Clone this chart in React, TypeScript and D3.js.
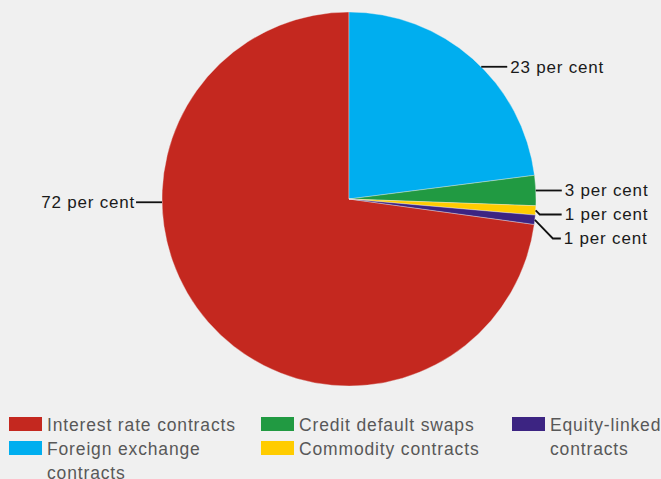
import React from "react";
import * as d3 from "d3";

const categories = [
  "Interest rate contracts",
  "Foreign exchange contracts",
  "Credit default swaps",
  "Commodity contracts",
  "Equity-linked contracts",
];
const shares = [72.9, 23.0, 2.6, 0.8, 0.8];
const sliceLabels = ["72 per cent", "23 per cent", "3 per cent", "1 per cent", "1 per cent"];
const colors = ["#c4281f", "#00aeef", "#219a42", "#ffcc00", "#3c2482"];

const W = 661;
const H = 479;
const CX = 349;
const CY = 199;
const R = 187;
// anchor-angle overrides for label leaders (degrees clockwise from 12 o'clock); null = mid angle
const labelAnchorDeg: (number | null)[] = [269, 45, null, null, null];

const LABEL_FONT = 17;
const LABEL_LS = 0.8;
const LEG_FONT = 17.5;
const LEG_LS = 0.85;
const FONT_FAMILY = "'Liberation Sans', Arial, Helvetica, sans-serif";

let measureCtx: CanvasRenderingContext2D | null = null;
function measure(text: string, size: number, ls: number) {
  if (!measureCtx) {
    const c = document.createElement("canvas");
    measureCtx = c.getContext("2d");
  }
  if (!measureCtx) return text.length * size * 0.5;
  measureCtx.font = `${size}px 'Liberation Sans'`;
  return measureCtx.measureText(text).width + ls * text.length;
}

function wrap(text: string, maxW: number) {
  const words = text.split(" ");
  const lines: string[] = [];
  let cur = "";
  for (const w of words) {
    const test = cur ? cur + " " + w : w;
    if (cur && measure(test, LEG_FONT, LEG_LS) > maxW) {
      lines.push(cur);
      cur = w;
    } else {
      cur = test;
    }
  }
  if (cur) lines.push(cur);
  return lines;
}

export default function App() {
  const total = d3.sum(shares);
  const a0 = (shares[0] / total) * 2 * Math.PI;
  const pie = d3
    .pie<number>()
    .sort(null)
    .value((d) => d)
    .startAngle(-a0)
    .endAngle(2 * Math.PI - a0);
  const arcs = pie(shares);
  const arcGen = d3.arc<d3.PieArcDatum<number>>().innerRadius(0).outerRadius(R);

  // label anchors
  const anchors = arcs.map((a, i) => {
    const ov = labelAnchorDeg[i];
    const th = ov != null ? (ov * Math.PI) / 180 : (a.startAngle + a.endAngle) / 2;
    const ax = CX + R * Math.sin(th);
    const ay = CY - R * Math.cos(th);
    return { i, ax, ay, right: Math.sin(th) >= 0, ly: ay };
  });
  // resolve overlaps per side
  [true, false].forEach((side) => {
    const grp = anchors.filter((a) => a.right === side).sort((p, q) => p.ay - q.ay);
    for (let k = 1; k < grp.length; k++) {
      if (grp[k].ly < grp[k - 1].ly + 24) grp[k].ly = grp[k - 1].ly + 24;
    }
  });

  const legendCols = [9, 261, 512];
  const legendRowTop = 417;
  const rowH = 24;

  return (
    <svg
      width={W}
      height={H}
      style={{ position: "absolute", left: 0, top: 0, display: "block" }}
      fontFamily={FONT_FAMILY}
    >
      <rect x={0} y={0} width={W} height={H} fill="#f0f0f0" />
      <g transform={`translate(${CX},${CY})`}>
        {arcs.map((a, i) => (
          <path
            key={i}
            d={arcGen(a) || ""}
            fill={colors[i]}
            stroke="#f0f0f0"
            strokeOpacity={0.6}
            strokeWidth={0.6}
          />
        ))}
      </g>
      {anchors.map((a) => {
        const dir = a.right ? 1 : -1;
        const dy = a.ly - a.ay;
        const endX = a.ax + dir * 26;
        const pts: [number, number][] = [[a.ax, a.ay]];
        if (Math.abs(dy) > 0.5) {
          pts.push([a.ax + dir * Math.min(Math.abs(dy), 18), a.ly]);
        }
        pts.push([endX, a.ly]);
        const line = d3.line()(pts) || "";
        return (
          <g key={a.i}>
            <path d={line} fill="none" stroke="#111" strokeWidth={1.8} />
            <text
              x={endX + dir * (a.right ? 3 : 1)}
              y={a.ly}
              dy="0.35em"
              textAnchor={a.right ? "start" : "end"}
              fontSize={LABEL_FONT}
              letterSpacing={LABEL_LS}
              fill="#1a1a1a"
            >
              {sliceLabels[a.i]}
            </text>
          </g>
        );
      })}
      {categories.map((c, i) => {
        const col = Math.floor(i / 2);
        const row = i % 2;
        const sx = legendCols[col];
        const tx = sx + 38;
        const top = legendRowTop + row * rowH;
        const maxW = Math.min(205, W - tx + 4);
        const lines = wrap(c, maxW);
        return (
          <g key={c}>
            <rect x={sx} y={top} width={33} height={14} fill={colors[i]} />
            <text fontSize={LEG_FONT} letterSpacing={LEG_LS} fill="#585858">
              {lines.map((l, k) => (
                <tspan key={k} x={tx} y={top + 14 + k * rowH}>
                  {l}
                </tspan>
              ))}
            </text>
          </g>
        );
      })}
    </svg>
  );
}
